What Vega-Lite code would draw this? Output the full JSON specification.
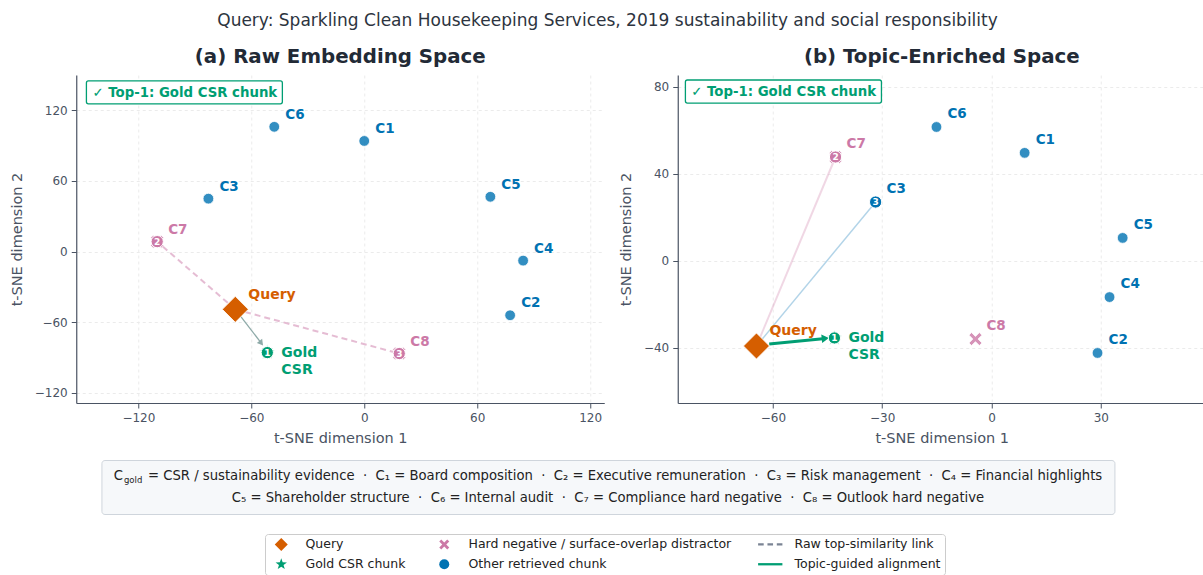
{
  "$schema": "https://vega.github.io/schema/vega-lite/v6.json",
  "background": "white",
  "padding": {"left": 9, "top": 12, "right": 0, "bottom": 0},
  "title": {"text": "Query: Sparkling Clean Housekeeping Services, 2019 sustainability and social responsibility", "fontSize": 17, "fontWeight": "normal", "color": "#2d3440", "anchor": "middle", "offset": 17},
  "datasets": {
    "a_pts": [
      {"id": "Query", "cat": "Query", "x": -68.5, "y": -49},
      {"id": "Gold", "cat": "Gold CSR chunk", "x": -51.5, "y": -85.7, "rank": 1},
      {"id": "C1", "cat": "Other retrieved chunk", "x": 0, "y": 94},
      {"id": "C2", "cat": "Other retrieved chunk", "x": 77.5, "y": -54},
      {"id": "C3", "cat": "Other retrieved chunk", "x": -82.8, "y": 45},
      {"id": "C4", "cat": "Other retrieved chunk", "x": 84.4, "y": -7.6},
      {"id": "C5", "cat": "Other retrieved chunk", "x": 67, "y": 46.6},
      {"id": "C6", "cat": "Other retrieved chunk", "x": -47.8, "y": 106},
      {"id": "C7", "cat": "Hard negative / surface-overlap distractor", "x": -110, "y": 8.5, "rank": 2},
      {"id": "C8", "cat": "Hard negative / surface-overlap distractor", "x": 18.6, "y": -86.5, "rank": 3}
    ],
    "a_links": [
      {"x": -68.5, "y": -49, "x2": -110, "y2": 8.5},
      {"x": -68.5, "y": -49, "x2": 18.6, "y2": -86.5}
    ],
    "a_arrow": [{"x": -68.5, "y": -49, "x2": -54.7, "y2": -77.7}],
    "a_tip": [{"x": -54.7, "y": -77.7}],
    "a_box": [{"x": -147.6, "x2": -43.5, "y": 125.5, "y2": 145}],
    "a_boxtext": [{"x": -144.4, "y": 134.9, "label": "✓ Top-1: Gold CSR chunk"}],
    "b_pts": [
      {"id": "Query", "cat": "Query", "x": -64.5, "y": -39.1},
      {"id": "Gold", "cat": "Gold CSR chunk", "x": -43.1, "y": -35.4, "rank": 1},
      {"id": "C1", "cat": "Other retrieved chunk", "x": 9.1, "y": 49.7},
      {"id": "C2", "cat": "Other retrieved chunk", "x": 29.1, "y": -42.3},
      {"id": "C3", "cat": "Other retrieved chunk", "x": -31.8, "y": 27.1, "rank": 3},
      {"id": "C4", "cat": "Other retrieved chunk", "x": 32.4, "y": -16.6},
      {"id": "C5", "cat": "Other retrieved chunk", "x": 36, "y": 10.6},
      {"id": "C6", "cat": "Other retrieved chunk", "x": -15.1, "y": 61.6},
      {"id": "C7", "cat": "Hard negative / surface-overlap distractor", "x": -42.8, "y": 47.8, "rank": 2},
      {"id": "C8", "cat": "Hard negative / surface-overlap distractor", "x": -4.4, "y": -35.9}
    ],
    "b_c7": [{"x": -64.5, "y": -39.1, "x2": -42.8, "y2": 47.8}],
    "b_c3": [{"x": -64.5, "y": -39.1, "x2": -31.8, "y2": 27.1}],
    "b_arrow": [{"x": -61, "y": -38.2, "x2": -45.6, "y2": -35.6}],
    "b_tip": [{"x": -45.6, "y": -35.6}],
    "b_box": [{"x": -84.0, "x2": -30.2, "y": 72.6, "y2": 83.2}],
    "b_boxtext": [{"x": -82.4, "y": 77.7, "label": "✓ Top-1: Gold CSR chunk"}],
    "caption": [
      {"line": 1, "text": "C\u00a0\u00a0\u00a0\u00a0\u00a0\u00a0= CSR / sustainability evidence\u00a0\u00a0·\u00a0\u00a0C₁ = Board composition\u00a0\u00a0·\u00a0\u00a0C₂ = Executive remuneration\u00a0\u00a0·\u00a0\u00a0C₃ = Risk management\u00a0\u00a0·\u00a0\u00a0C₄ = Financial highlights"},
      {"line": 2, "text": "C₅ = Shareholder structure\u00a0\u00a0·\u00a0\u00a0C₆ = Internal audit\u00a0\u00a0·\u00a0\u00a0C₇ = Compliance hard negative\u00a0\u00a0·\u00a0\u00a0C₈ = Outlook hard negative"}
    ]
  },
  "vconcat": [
    {
      "hconcat": [
        {
          "width": 528, "height": 328,
          "title": {"text": "(a) Raw Embedding Space", "fontSize": 19.8, "fontWeight": "bold", "color": "#222a36", "anchor": "middle", "offset": 8},
          "encoding": {
            "x": {"field": "x", "type": "quantitative", "title": "t-SNE dimension 1", "scale": {"domain": [-153, 127.5], "nice": false, "zero": false}, "axis": {"values": [-120, -60, 0, 60, 120]}},
            "y": {"field": "y", "type": "quantitative", "title": "t-SNE dimension 2", "scale": {"domain": [-128.5, 150], "nice": false, "zero": false}, "axis": {"values": [-120, -60, 0, 60, 120]}}
          },
          "layer": [
            {"data": {"name": "a_box"}, "mark": {"type": "rect", "fill": "white", "stroke": "#009E73", "strokeWidth": 1.3, "cornerRadius": 2}, "encoding": {"x2": {"field": "x2"}, "y2": {"field": "y2"}}},
            {"data": {"name": "a_boxtext"}, "mark": {"type": "text", "align": "left", "baseline": "middle", "fontSize": 13.3, "fontWeight": "bold", "color": "#009E73"}, "encoding": {"text": {"field": "label"}}},
            {"data": {"name": "a_links"}, "mark": {"type": "rule", "stroke": "#CC79A7", "strokeWidth": 2, "opacity": 0.5, "strokeDash": [6, 4]}, "encoding": {"x2": {"field": "x2"}, "y2": {"field": "y2"}}},
            {"data": {"name": "a_arrow"}, "mark": {"type": "rule", "stroke": "#8eaaa8", "strokeWidth": 1.3}, "encoding": {"x2": {"field": "x2"}, "y2": {"field": "y2"}}},
            {"data": {"name": "a_tip"}, "mark": {"type": "point", "shape": "triangle-right", "filled": true, "color": "#8eaaa8", "opacity": 1, "size": 45, "angle": 52}},
            {"data": {"name": "a_pts"},
             "mark": {"type": "point", "filled": true, "stroke": "white", "strokeWidth": 0.8},
             "encoding": {
               "color": {"field": "cat", "type": "nominal", "scale": {"domain": ["Query", "Hard negative / surface-overlap distractor", "Raw top-similarity link", "Gold CSR chunk", "Other retrieved chunk", "Topic-guided alignment"], "range": ["#D55E00", "#CC79A7", "#7b8494", "#009E73", "#0072B2", "#009E73"]},
                 "legend": {"title": null, "orient": "none", "legendX": 189, "legendY": 459}},
               "shape": {"field": "cat", "type": "nominal", "scale": {"domain": ["Query", "Hard negative / surface-overlap distractor", "Raw top-similarity link", "Gold CSR chunk", "Other retrieved chunk", "Topic-guided alignment"], "range": ["M-1.3,0L0,-1.3L1.3,0L0,1.3Z", "M-1,-0.6L-0.6,-1L0,-0.4L0.6,-1L1,-0.6L0.4,0L1,0.6L0.6,1L0,0.4L-0.6,1L-1,0.6L-0.4,0Z", "M-2.43,-0.23H-1.31V0.23H-2.43Z M-0.56,-0.23H0.56V0.23H-0.56Z M1.31,-0.23H2.43V0.23H1.31Z", "M0,-1.2L0.282,-0.389L1.141,-0.371L0.456,0.149L0.706,0.971L0,0.48L-0.706,0.971L-0.456,0.149L-1.141,-0.371L-0.282,-0.389Z", "circle", "M-2.43,-0.23H2.43V0.23H-2.43Z"]},
                 "legend": {"title": null, "orient": "none", "legendX": 189, "legendY": 459}},
               "size": {"condition": [{"test": "datum.cat === 'Query'", "value": 400}, {"test": "datum.cat === 'Gold CSR chunk'", "value": 180}, {"test": "datum.cat === 'Hard negative / surface-overlap distractor'", "value": 170}], "value": 115},
               "opacity": {"condition": {"test": "datum.cat === 'Query'", "value": 1}, "value": 0.8}
             }},
            {"data": {"name": "a_pts"}, "transform": [{"filter": "isValid(datum.rank)"}],
             "mark": {"type": "circle", "size": 150, "stroke": "white", "strokeWidth": 1, "opacity": 1},
             "encoding": {"color": {"condition": [{"test": "datum.cat === 'Gold CSR chunk'", "value": "#009E73"}, {"test": "datum.cat === 'Other retrieved chunk'", "value": "#0072B2"}], "value": "#CC79A7"}}},
            {"data": {"name": "a_pts"}, "transform": [{"filter": "isValid(datum.rank)"}],
             "mark": {"type": "text", "color": "white", "fontSize": 9, "fontWeight": "bold", "align": "center", "baseline": "middle"},
             "encoding": {"text": {"field": "rank"}}},
            {"data": {"name": "a_pts"}, "transform": [{"filter": "datum.id !== 'Query' && datum.id !== 'Gold'"}],
             "mark": {"type": "text", "align": "left", "baseline": "middle", "dx": 11, "dy": -12, "fontSize": 13.5, "fontWeight": "bold"},
             "encoding": {"text": {"field": "id"}, "color": {"condition": {"test": "datum.cat === 'Other retrieved chunk'", "value": "#0072B2"}, "value": "#CC79A7"}}},
            {"data": {"name": "a_pts"}, "transform": [{"filter": "datum.id === 'Query'"}],
             "mark": {"type": "text", "align": "left", "baseline": "middle", "dx": 13, "dy": -14, "fontSize": 14, "fontWeight": "bold", "color": "#D55E00"},
             "encoding": {"text": {"value": "Query"}}},
            {"data": {"name": "a_pts"}, "transform": [{"filter": "datum.id === 'Gold'"}],
             "mark": {"type": "text", "align": "left", "baseline": "middle", "dx": 14, "dy": 0, "fontSize": 14, "fontWeight": "bold", "color": "#009E73"},
             "encoding": {"text": {"value": "Gold"}}},
            {"data": {"name": "a_pts"}, "transform": [{"filter": "datum.id === 'Gold'"}],
             "mark": {"type": "text", "align": "left", "baseline": "middle", "dx": 14, "dy": 17, "fontSize": 14, "fontWeight": "bold", "color": "#009E73"},
             "encoding": {"text": {"value": "CSR"}}}
          ]
        },
        {
          "width": 528, "height": 328,
          "title": {"text": "(b) Topic-Enriched Space", "fontSize": 19.8, "fontWeight": "bold", "color": "#222a36", "anchor": "middle", "offset": 8},
          "encoding": {
            "x": {"field": "x", "type": "quantitative", "title": "t-SNE dimension 1", "scale": {"domain": [-86.1, 58.8], "nice": false, "zero": false}, "axis": {"values": [-60, -30, 0, 30]}},
            "y": {"field": "y", "type": "quantitative", "title": "t-SNE dimension 2", "scale": {"domain": [-65.3, 85.5], "nice": false, "zero": false}, "axis": {"values": [-40, 0, 40, 80]}}
          },
          "layer": [
            {"data": {"name": "b_box"}, "mark": {"type": "rect", "fill": "white", "stroke": "#009E73", "strokeWidth": 1.3, "cornerRadius": 2}, "encoding": {"x2": {"field": "x2"}, "y2": {"field": "y2"}}},
            {"data": {"name": "b_boxtext"}, "mark": {"type": "text", "align": "left", "baseline": "middle", "fontSize": 13.3, "fontWeight": "bold", "color": "#009E73"}, "encoding": {"text": {"field": "label"}}},
            {"data": {"name": "b_c7"}, "mark": {"type": "rule", "stroke": "#CC79A7", "strokeWidth": 2, "opacity": 0.3}, "encoding": {"x2": {"field": "x2"}, "y2": {"field": "y2"}}},
            {"data": {"name": "b_c3"}, "mark": {"type": "rule", "stroke": "#0072B2", "strokeWidth": 1.5, "opacity": 0.3}, "encoding": {"x2": {"field": "x2"}, "y2": {"field": "y2"}}},
            {"data": {"name": "b_arrow"}, "mark": {"type": "rule", "stroke": "#009E73", "strokeWidth": 3}, "encoding": {"x2": {"field": "x2"}, "y2": {"field": "y2"}}},
            {"data": {"name": "b_tip"}, "mark": {"type": "point", "shape": "triangle-right", "filled": true, "color": "#009E73", "opacity": 1, "size": 70, "angle": -6}},
            {"data": {"name": "b_pts"},
             "mark": {"type": "point", "filled": true, "stroke": "white", "strokeWidth": 0.8},
             "encoding": {
               "color": {"field": "cat", "type": "nominal", "scale": {"domain": ["Query", "Hard negative / surface-overlap distractor", "Raw top-similarity link", "Gold CSR chunk", "Other retrieved chunk", "Topic-guided alignment"], "range": ["#D55E00", "#CC79A7", "#7b8494", "#009E73", "#0072B2", "#009E73"]},
                 "legend": {"title": null, "orient": "none", "legendX": 189, "legendY": 459}},
               "shape": {"field": "cat", "type": "nominal", "scale": {"domain": ["Query", "Hard negative / surface-overlap distractor", "Raw top-similarity link", "Gold CSR chunk", "Other retrieved chunk", "Topic-guided alignment"], "range": ["M-1.3,0L0,-1.3L1.3,0L0,1.3Z", "M-1,-0.6L-0.6,-1L0,-0.4L0.6,-1L1,-0.6L0.4,0L1,0.6L0.6,1L0,0.4L-0.6,1L-1,0.6L-0.4,0Z", "M-2.43,-0.23H-1.31V0.23H-2.43Z M-0.56,-0.23H0.56V0.23H-0.56Z M1.31,-0.23H2.43V0.23H1.31Z", "M0,-1.2L0.282,-0.389L1.141,-0.371L0.456,0.149L0.706,0.971L0,0.48L-0.706,0.971L-0.456,0.149L-1.141,-0.371L-0.282,-0.389Z", "circle", "M-2.43,-0.23H2.43V0.23H-2.43Z"]},
                 "legend": {"title": null, "orient": "none", "legendX": 189, "legendY": 459}},
               "size": {"condition": [{"test": "datum.cat === 'Query'", "value": 400}, {"test": "datum.cat === 'Gold CSR chunk'", "value": 180}, {"test": "datum.cat === 'Hard negative / surface-overlap distractor'", "value": 170}], "value": 115},
               "opacity": {"condition": {"test": "datum.cat === 'Query'", "value": 1}, "value": 0.8}
             }},
            {"data": {"name": "b_pts"}, "transform": [{"filter": "isValid(datum.rank)"}],
             "mark": {"type": "circle", "size": 150, "stroke": "white", "strokeWidth": 1, "opacity": 1},
             "encoding": {"color": {"condition": [{"test": "datum.cat === 'Gold CSR chunk'", "value": "#009E73"}, {"test": "datum.cat === 'Other retrieved chunk'", "value": "#0072B2"}], "value": "#CC79A7"}}},
            {"data": {"name": "b_pts"}, "transform": [{"filter": "isValid(datum.rank)"}],
             "mark": {"type": "text", "color": "white", "fontSize": 9, "fontWeight": "bold", "align": "center", "baseline": "middle"},
             "encoding": {"text": {"field": "rank"}}},
            {"data": {"name": "b_pts"}, "transform": [{"filter": "datum.id !== 'Query' && datum.id !== 'Gold'"}],
             "mark": {"type": "text", "align": "left", "baseline": "middle", "dx": 11, "dy": -13, "fontSize": 13.5, "fontWeight": "bold"},
             "encoding": {"text": {"field": "id"}, "color": {"condition": {"test": "datum.cat === 'Other retrieved chunk'", "value": "#0072B2"}, "value": "#CC79A7"}}},
            {"data": {"name": "b_pts"}, "transform": [{"filter": "datum.id === 'Query'"}],
             "mark": {"type": "text", "align": "left", "baseline": "middle", "dx": 13, "dy": -15, "fontSize": 14, "fontWeight": "bold", "color": "#D55E00"},
             "encoding": {"text": {"value": "Query"}}},
            {"data": {"name": "b_pts"}, "transform": [{"filter": "datum.id === 'Gold'"}],
             "mark": {"type": "text", "align": "left", "baseline": "middle", "dx": 14, "dy": 0, "fontSize": 14, "fontWeight": "bold", "color": "#009E73"},
             "encoding": {"text": {"value": "Gold"}}},
            {"data": {"name": "b_pts"}, "transform": [{"filter": "datum.id === 'Gold'"}],
             "mark": {"type": "text", "align": "left", "baseline": "middle", "dx": 14, "dy": 17, "fontSize": 14, "fontWeight": "bold", "color": "#009E73"},
             "encoding": {"text": {"value": "CSR"}}}
          ]
        }
      ],
      "spacing": 13.5,
      "resolve": {"scale": {"color": "shared", "shape": "shared"}, "legend": {"color": "shared", "shape": "shared"}}
    },
    {
      "width": 1013, "height": 54,
      "view": {"stroke": "#cfd5dc", "fill": "#f6f8fa", "cornerRadius": 3},
      "data": {"name": "caption"},
      "encoding": {"y": {"field": "line", "type": "ordinal", "scale": {"type": "point", "padding": 0.76}, "axis": {"orient": "right", "labelColor": "transparent", "ticks": false, "domain": false, "grid": false, "title": null, "labelPadding": 58, "labelFontSize": 12}}},
      "layer": [
        {"mark": {"type": "text", "fontSize": 13.2, "color": "#222222", "align": "center", "baseline": "middle"}, "encoding": {"text": {"field": "text"}}},
        {"transform": [{"filter": "datum.line === 1"}], "mark": {"type": "text", "fontSize": 8.5, "color": "#222222", "align": "left", "baseline": "middle", "dx": -484, "dy": 4}, "encoding": {"text": {"value": "gold"}}}
      ]
    }
  ],
  "center": true,
  "spacing": 14,
  "resolve": {"scale": {"color": "shared", "shape": "shared"}, "legend": {"color": "shared", "shape": "shared"}},
  "config": {
    "font": "DejaVu Sans",
    "view": {"stroke": null},
    "axis": {"domainColor": "#4a5363", "domainWidth": 1.2, "tickColor": "#4a5363", "labelColor": "#4a5363", "titleColor": "#4a5363", "labelFontSize": 12, "titleFontSize": 14.5, "titleFontWeight": "normal", "gridColor": "#ebebeb", "gridDash": [3, 3], "tickSize": 5, "labelPadding": 4},
    "axisX": {"titlePadding": 8},
    "axisY": {"titlePadding": 10},
    "legend": {
      "columns": 3, "direction": "horizontal", "labelFontSize": 12.5, "labelColor": "#222222", "labelLimit": 400, "labelOffset": 18,
      "symbolOffset": 6, "strokeColor": "#cccccc", "padding": 4, "cornerRadius": 3, "fillColor": "white",
      "rowPadding": 7, "columnPadding": 26, "symbolOpacity": 1, "symbolStrokeWidth": 0
    }
  }
}
